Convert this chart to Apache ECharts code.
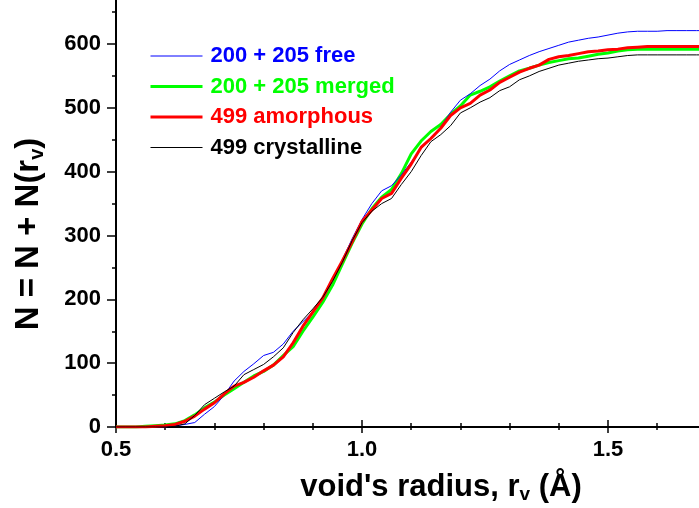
<!DOCTYPE html>
<html>
<head>
<meta charset="utf-8">
<script src="https://cdn.jsdelivr.net/npm/echarts@6/dist/echarts.min.js"></script>
<style>
  html, body { margin: 0; padding: 0; background: #fff; }
  #chart { width: 699px; height: 508px; }
</style>
</head>
<body>
<div id="chart"></div>
<script>
// void radius (Å), common grid for all curves
var radius = [0.50, 0.52, 0.54, 0.56, 0.58, 0.60, 0.62, 0.64, 0.66, 0.68,
              0.70, 0.72, 0.74, 0.76, 0.78, 0.80, 0.82, 0.84, 0.86, 0.88,
              0.90, 0.92, 0.94, 0.96, 0.98, 1.00, 1.02, 1.04, 1.06, 1.08,
              1.10, 1.12, 1.14, 1.16, 1.18, 1.20, 1.22, 1.24, 1.26, 1.28,
              1.30, 1.32, 1.34, 1.36, 1.38, 1.40, 1.42, 1.44, 1.46, 1.48,
              1.50, 1.52, 1.54, 1.56, 1.58, 1.60, 1.62, 1.64, 1.66, 1.68, 1.70];

var free = [0, 0, 0, 0, 0, 0, 2, 4, 7, 20,
            32, 50, 72, 87, 99, 112, 117, 130, 150, 165,
            180, 200, 230, 262, 295, 325, 350, 370, 378, 395,
            415, 436, 452, 470, 493, 512, 522, 535, 545, 558,
            568, 575, 582, 588, 593, 598, 603, 606, 609, 611,
            614, 617, 619, 620, 620, 620, 621, 621, 621, 621, 621];

var merged = [0, 0, 0, 1, 2, 3, 5, 10, 19, 30,
              39, 50, 60, 70, 80, 87, 97, 112, 126, 150,
              172, 195, 222, 255, 288, 318, 342, 360, 372, 397,
              428, 448, 463, 474, 490, 503, 520, 526, 533, 542,
              550, 558, 562, 567, 571, 574, 577, 578, 581, 584,
              586, 589, 591, 592, 592, 592, 592, 592, 592, 592, 592];

var amorphous = [0, 0, 0, 0, 1, 2, 4, 9, 17, 28,
                 38, 52, 64, 70, 78, 88, 97, 110, 132, 158,
                 180, 202, 232, 260, 290, 322, 340, 358, 366, 390,
                 412, 438, 452, 468, 488, 500, 507, 520, 528, 540,
                 548, 556, 562, 567, 576, 580, 582, 585, 588, 589,
                 591, 592, 594, 595, 596, 596, 596, 596, 596, 596, 596];

var crystalline = [0, 0, 0, 0, 0, 0, 1, 5, 18, 35,
                   45, 55, 64, 82, 90, 98, 110, 124, 148, 168,
                   185, 203, 228, 258, 292, 320, 338, 350, 358, 380,
                   400, 425, 447, 458, 472, 492, 500, 509, 516, 527,
                   533, 544, 550, 557, 562, 567, 570, 573, 575, 577,
                   578, 580, 582, 583, 583, 583, 583, 583, 583, 583, 583];

var names = ['200 + 205 free', '200 + 205 merged', '499 amorphous', '499 crystalline'];
var colors = ['#0000ff', '#00ff00', '#ff0000', '#000000'];
var widths = [1, 3, 3, 1];

var FONT = '"Liberation Sans", Arial, Helvetica, sans-serif';

function pairs(ys) {
    return radius.map(function (r, i) { return [r, ys[i]]; });
}

var chart = echarts.init(document.getElementById('chart'));

var axisLine = { show: true, lineStyle: { color: '#000', width: 2 } };

var option = {
    backgroundColor: '#fff',
    animation: false,
    grid: [
        { left: 116, top: -19.8, width: 738, height: 446.8, outerBoundsMode: 'none', containLabel: false },
        { left: 116, top: 12, width: 738, height: 415, outerBoundsMode: 'none', containLabel: false }
    ],
    legend: {
        orient: 'vertical',
        left: 149,
        top: 45,
        padding: 0,
        itemWidth: 52,
        itemHeight: 14,
        itemGap: 8.5,
        itemStyle: { opacity: 0 },
        data: names.map(function (n, i) {
            return {
                name: n,
                textStyle: { color: colors[i] },
                lineStyle: { color: colors[i], width: widths[i] }
            };
        }),
        textStyle: {
            fontFamily: FONT,
            fontWeight: 'bold',
            fontSize: 22,
            lineHeight: 22,
            padding: [0, 0, 0, 3]
        }
    },
    xAxis: [
        {
            gridIndex: 0,
            type: 'value',
            min: 0.5,
            max: 2.0,
            interval: 0.5,
            axisLine: axisLine,
            axisTick: { show: true, length: 6, lineStyle: { color: '#000', width: 1.5 } },
            minorTick: { show: true, splitNumber: 5, length: 3, lineStyle: { color: '#000', width: 1.5 } },
            splitLine: { show: false },
            axisLabel: {
                margin: 12,
                fontFamily: FONT,
                fontWeight: 'bold',
                fontSize: 22,
                color: '#000',
                formatter: function (v) { return v.toFixed(1); }
            }
        },
        {
            gridIndex: 1,
            type: 'value',
            position: 'top',
            min: 0.5,
            max: 2.0,
            interval: 0.5,
            axisLine: axisLine,
            axisTick: { show: true, length: 7, lineStyle: { color: '#000', width: 1.5 } },
            minorTick: { show: true, splitNumber: 5, length: 4, lineStyle: { color: '#000', width: 1.5 } },
            splitLine: { show: false },
            axisLabel: { show: false }
        }
    ],
    yAxis: [
        {
            gridIndex: 0,
            type: 'value',
            min: 0,
            max: 700,
            interval: 100,
            axisLine: axisLine,
            axisTick: { show: true, length: 9, lineStyle: { color: '#000', width: 1.5 } },
            minorTick: { show: true, splitNumber: 2, length: 4, lineStyle: { color: '#000', width: 1.5 } },
            splitLine: { show: false },
            axisLabel: {
                margin: 15,
                fontFamily: FONT,
                fontWeight: 'bold',
                fontSize: 22,
                color: '#000',
                showMaxLabel: false
            }
        },
        {
            gridIndex: 1,
            type: 'value',
            show: false,
            min: 0,
            max: 650
        }
    ],
    series: [
        { name: names[0], data: pairs(free), color: colors[0], lw: widths[0], z: 3 },
        { name: names[1], data: pairs(merged), color: colors[1], lw: widths[1], z: 2 },
        { name: names[2], data: pairs(amorphous), color: colors[2], lw: widths[2], z: 4 },
        { name: names[3], data: pairs(crystalline), color: colors[3], lw: widths[3], z: 5 }
    ].map(function (s) {
        return {
            name: s.name,
            type: 'line',
            xAxisIndex: 0,
            yAxisIndex: 0,
            data: s.data,
            z: s.z,
            symbol: 'none',
            showSymbol: false,
            smooth: false,
            color: s.color,
            lineStyle: { color: s.color, width: s.lw }
        };
    }),
    graphic: [
        {
            type: 'text',
            x: 441,
            y: 487,
            style: {
                text: "{a|void's radius, r}{s|v}{a| (Å)}",
                align: 'center',
                verticalAlign: 'middle',
                textAlign: 'center',
                textVerticalAlign: 'middle',
                rich: {
                    a: { fontFamily: FONT, fontWeight: 'bold', fontSize: 31, lineHeight: 34, fill: '#000', color: '#000' },
                    s: { fontFamily: FONT, fontWeight: 'bold', fontSize: 19, lineHeight: 19, padding: [15, 0, 0, 0], verticalAlign: 'bottom', fill: '#000', color: '#000' }
                }
            }
        },
        {
            type: 'text',
            x: 29,
            y: 234,
            rotation: Math.PI / 2,
            style: {
                text: '{a|N = N + N(r}{s|v}{a|)}',
                align: 'center',
                verticalAlign: 'middle',
                textAlign: 'center',
                textVerticalAlign: 'middle',
                rich: {
                    a: { fontFamily: FONT, fontWeight: 'bold', fontSize: 33, lineHeight: 36, fill: '#000', color: '#000' },
                    s: { fontFamily: FONT, fontWeight: 'bold', fontSize: 20, lineHeight: 20, padding: [16, 0, 0, 0], verticalAlign: 'bottom', fill: '#000', color: '#000' }
                }
            }
        }
    ]
};

chart.setOption(option);
</script>
</body>
</html>
